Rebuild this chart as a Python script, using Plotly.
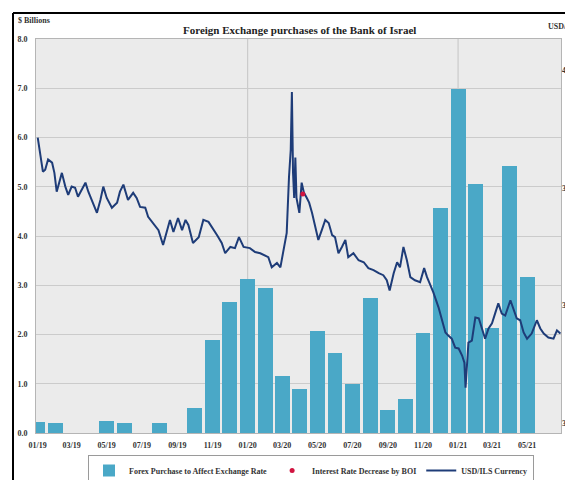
import plotly.graph_objects as go

# ---------------- data ----------------
bar_months = ["2019-01-01", "2019-02-01", "2019-03-01", "2019-04-01", "2019-05-01", "2019-06-01",
              "2019-07-01", "2019-08-01", "2019-09-01", "2019-10-01", "2019-11-01", "2019-12-01",
              "2020-01-01", "2020-02-01", "2020-03-01", "2020-04-01", "2020-05-01", "2020-06-01",
              "2020-07-01", "2020-08-01", "2020-09-01", "2020-10-01", "2020-11-01", "2020-12-01",
              "2021-01-01", "2021-02-01", "2021-03-01", "2021-04-01", "2021-05-01"]
forex_purchase = [0.22, 0.21, 0, 0, 0.25, 0.2,
                  0, 0.2, 0, 0.5, 1.88, 2.67,
                  3.13, 2.95, 1.15, 0.9, 2.08, 1.62,
                  0.99, 2.74, 0.46, 0.7, 2.03, 4.57,
                  6.99, 5.06, 2.13, 5.43, 3.17]

fx_dates = ["2019-01-01", "2019-01-05", "2019-01-10", "2019-01-14", "2019-01-19", "2019-01-26",
            "2019-01-30", "2019-02-03", "2019-02-12", "2019-02-18", "2019-02-23", "2019-03-01",
            "2019-03-07", "2019-03-12", "2019-03-25", "2019-03-30", "2019-04-07", "2019-04-14",
            "2019-04-20", "2019-04-25", "2019-05-01", "2019-05-10", "2019-05-19", "2019-05-24",
            "2019-05-30", "2019-06-07", "2019-06-16", "2019-06-22", "2019-06-28", "2019-07-07",
            "2019-07-12", "2019-07-21", "2019-07-30", "2019-08-07", "2019-08-14", "2019-08-19",
            "2019-08-25", "2019-09-02", "2019-09-09", "2019-09-15", "2019-09-20", "2019-09-28",
            "2019-10-08", "2019-10-16", "2019-10-25", "2019-10-31", "2019-11-09", "2019-11-17",
            "2019-11-23", "2019-12-02", "2019-12-10", "2019-12-17", "2019-12-25", "2020-01-05",
            "2020-01-14", "2020-01-23", "2020-01-29", "2020-02-06", "2020-02-12", "2020-02-21",
            "2020-02-27", "2020-03-03", "2020-03-09", "2020-03-13", "2020-03-16", "2020-03-18",
            "2020-03-20", "2020-03-22", "2020-03-24", "2020-03-26", "2020-03-31", "2020-04-04",
            "2020-04-08", "2020-04-13", "2020-04-17", "2020-04-22", "2020-04-28", "2020-05-03",
            "2020-05-09", "2020-05-15", "2020-05-21", "2020-05-27", "2020-06-01", "2020-06-07",
            "2020-06-13", "2020-06-19", "2020-06-24", "2020-07-03", "2020-07-12", "2020-07-21",
            "2020-07-29", "2020-08-07", "2020-08-16", "2020-08-24", "2020-08-30", "2020-09-04",
            "2020-09-11", "2020-09-17", "2020-09-22", "2020-09-28", "2020-10-04", "2020-10-10",
            "2020-10-18", "2020-10-27", "2020-11-03", "2020-11-08", "2020-11-14", "2020-11-19",
            "2020-11-28", "2020-12-04", "2020-12-10", "2020-12-15", "2020-12-21", "2020-12-27",
            "2021-01-02", "2021-01-08", "2021-01-12", "2021-01-14", "2021-01-17", "2021-01-19",
            "2021-01-25", "2021-01-31", "2021-02-06", "2021-02-11", "2021-02-17", "2021-02-23",
            "2021-03-01", "2021-03-07", "2021-03-12", "2021-03-18", "2021-03-24", "2021-04-02",
            "2021-04-07", "2021-04-13", "2021-04-19", "2021-04-25", "2021-05-01", "2021-05-09",
            "2021-05-18", "2021-05-24", "2021-05-30", "2021-06-07", "2021-06-16", "2021-06-22",
            "2021-06-28"]
usd_ils = [3.828, 3.790, 3.741, 3.746, 3.772, 3.764,
           3.738, 3.690, 3.738, 3.703, 3.682, 3.703,
           3.700, 3.677, 3.713, 3.690, 3.662, 3.636,
           3.669, 3.703, 3.674, 3.649, 3.662, 3.690,
           3.708, 3.669, 3.687, 3.674, 3.651, 3.649,
           3.626, 3.610, 3.592, 3.554, 3.592, 3.618,
           3.587, 3.623, 3.592, 3.618, 3.605, 3.559,
           3.574, 3.618, 3.613, 3.600, 3.579, 3.559,
           3.533, 3.549, 3.546, 3.574, 3.549, 3.546,
           3.536, 3.533, 3.528, 3.523, 3.497, 3.508,
           3.497, 3.541, 3.585, 3.728, 3.797, 3.944,
           3.738, 3.674, 3.777, 3.674, 3.636, 3.713,
           3.687, 3.674, 3.662, 3.636, 3.600, 3.567,
           3.592, 3.618, 3.610, 3.579, 3.574, 3.533,
           3.549, 3.567, 3.523, 3.533, 3.515, 3.510,
           3.495, 3.490, 3.482, 3.477, 3.464, 3.438,
           3.482, 3.510, 3.497, 3.549, 3.515, 3.472,
           3.464, 3.459, 3.495, 3.472, 3.451, 3.433,
           3.395, 3.362, 3.331, 3.323, 3.315, 3.292,
           3.290, 3.272, 3.254, 3.190, 3.280, 3.305,
           3.310, 3.369, 3.367, 3.341, 3.315, 3.341,
           3.354, 3.382, 3.405, 3.379, 3.374, 3.413,
           3.392, 3.367, 3.362, 3.331, 3.315, 3.328,
           3.362, 3.341, 3.328, 3.318, 3.315, 3.336,
           3.328]

rate_cut_dates = ["2020-04-06"]
rate_cut_values = [3.684]

left_ticks = [0, 1, 2, 3, 4, 5, 6, 7, 8]
right_ticks = [3.1, 3.4, 3.7, 4.0]
year_lines = ["2020-01-01", "2021-01-01"]

# ---------------- style ----------------
FONT = "Liberation Serif"
BAR_COLOR = "#4aa8c7"
LINE_COLOR = "#1e3c78"
GRID = "#cbcbcb"
FRAME = "#b5b5b5"
BG = "#ebebeb"

OFF = 8                      # page body margin
W, H = 573 - OFF, 480 - OFF
ML, MR, MT, MB = 36 - OFF, 12, 39 - OFF, 47
PW, PH = W - ML - MR, H - MT - MB


def px_x(p):
    """screen pixel x -> paper coordinate"""
    return (p - OFF - ML) / PW


def px_y(p):
    """screen pixel y -> paper coordinate"""
    return 1 - (p - OFF - MT) / PH


fig = go.Figure()

fig.add_trace(go.Bar(
    x=bar_months, y=forex_purchase, name="Forex Purchase to Affect Exchange Rate",
    marker=dict(color=BAR_COLOR, line=dict(width=0)),
    width=26 * 86400000, legendrank=1, yaxis="y"))

fig.add_trace(go.Scatter(
    x=fx_dates, y=usd_ils, name="USD/ILS Currency", mode="lines",
    line=dict(color=LINE_COLOR, width=2), legendrank=3, yaxis="y2"))

fig.add_trace(go.Scatter(
    x=rate_cut_dates, y=rate_cut_values, name="Interest Rate Decrease by BOI", mode="markers",
    marker=dict(color="#d11440", size=5), legendrank=2, yaxis="y2"))

for d in year_lines:
    fig.add_shape(type="line", xref="x", yref="paper", x0=d, x1=d, y0=0, y1=1,
                  line=dict(color=GRID, width=1.2), layer="below")

tickfont = dict(family=FONT, size=8, color="#333333", weight="bold")

fig.update_layout(
    width=W, height=H,
    margin=dict(l=ML, r=MR, t=MT, b=MB, autoexpand=False),
    paper_bgcolor="white", plot_bgcolor=BG,
    showlegend=True,
    bargap=0,
    legend=dict(orientation="h", x=px_x(311), xanchor="center", y=px_y(455), yanchor="top",
                bgcolor="white", bordercolor="#9a9a9a", borderwidth=1,
                font=dict(family=FONT, size=8, color="#333333", weight="bold"),
                itemwidth=30, tracegroupgap=0),
    xaxis=dict(type="date", range=["2018-12-29", "2021-06-29"],
               tick0="2019-01-01", dtick="M2", tickformat="%m/%y",
               showgrid=False, zeroline=False, ticks="", tickfont=tickfont,
               ticklabelstandoff=4,
               showline=True, linecolor=FRAME, linewidth=1, mirror=True,
               automargin=False),
    yaxis=dict(range=[0, 8], tickvals=left_ticks, tickformat=".1f",
               showgrid=True, gridcolor=GRID, gridwidth=1.2, zeroline=False,
               ticks="", ticklabelstandoff=6, tickfont=tickfont,
               showline=True, linecolor=FRAME, linewidth=1, mirror=True,
               automargin=False),
    yaxis2=dict(overlaying="y", side="right", range=[3.0744, 4.0795], tickvals=right_ticks,
                tickformat=".1f", showgrid=False, zeroline=False, ticks="",
                ticklabelstandoff=0, tickfont=tickfont, automargin=False),
)

fig.add_annotation(text="<b>Foreign Exchange purchases of the Bank of Israel</b>",
                   xref="paper", yref="paper", x=px_x(299), y=px_y(30), xanchor="center", yanchor="middle",
                   showarrow=False, font=dict(family=FONT, size=11, color="#222222"))
fig.add_annotation(text="<b>$ Billions</b>", xref="paper", yref="paper",
                   x=px_x(16), y=px_y(21), xanchor="left", yanchor="middle",
                   showarrow=False, font=dict(family=FONT, size=8, color="#333333"))
fig.add_annotation(text="<b>USD/ILS</b>", xref="paper", yref="paper",
                   x=px_x(546), y=px_y(27), xanchor="left", yanchor="middle",
                   showarrow=False, font=dict(family=FONT, size=8, color="#333333"))

# outer chart border (top and left visible in the crop)
fig.add_shape(type="line", xref="paper", yref="paper", x0=px_x(13), x1=px_x(600),
              y0=px_y(13), y1=px_y(13), line=dict(color="black", width=2))
fig.add_shape(type="line", xref="paper", yref="paper", x0=px_x(13), x1=px_x(13),
              y0=px_y(13), y1=px_y(500), line=dict(color="black", width=2))

fig.write_html("out.html")
